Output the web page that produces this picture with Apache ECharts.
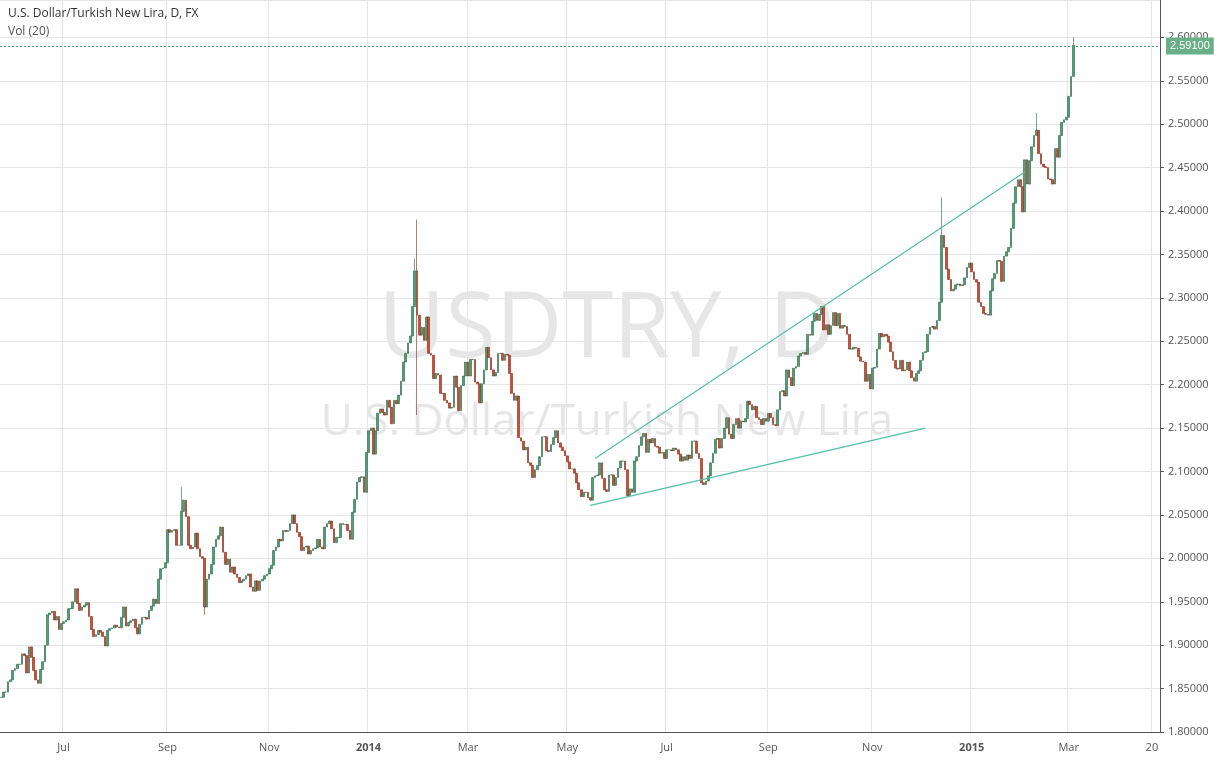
<!DOCTYPE html>
<html><head><meta charset="utf-8">
<script src="https://cdn.jsdelivr.net/npm/echarts@6/dist/echarts.min.js"></script>
<style>html,body{margin:0;padding:0;background:#fff}#c{width:1214px;height:764px}</style>
</head><body><div id="c"></div>
<script>
const closes1=[1.840,1.846,1.846,1.858,1.860,1.871,1.873,1.878,1.878,1.890,1.888,1.868,1.898,1.886,1.871,1.860,1.856,1.872,1.881,1.900,1.935,1.937,1.939,1.929,1.933,1.918,1.925,1.927,1.929,1.942,1.942,1.950,1.965,1.948,1.940,1.944,1.946,1.949,1.933,1.918,1.910,1.912,1.917,1.915,1.910,1.899,1.917,1.919,1.920,1.923,1.921,1.920,1.932,1.944,1.922,1.926,1.928,1.930,1.920,1.913,1.924,1.932,1.932,1.930,1.940,1.945,1.953,1.948,1.976,1.988,1.989,1.995,2.033,2.030,2.032,2.033,2.015,2.015,2.054,2.067,2.048,2.015,2.011,2.013,2.029,2.011,2.002];
const closes2=[2.000,1.944,1.976,1.982,1.993,2.013,2.022,2.026,2.036,2.007,1.993,1.999,1.984,1.990,1.982,1.978,1.972,1.974,1.976,1.980,1.982,1.967,1.962,1.974,1.963,1.974,1.976,1.980,1.982,1.988,1.992,2.009,2.013,2.022,2.020,2.032,2.031,2.032,2.040,2.050,2.040,2.030,2.025,2.009,2.013,2.014,2.005,2.009,2.011,2.012,2.022,2.013,2.011,2.036,2.040,2.043,2.034,2.018,2.024,2.024,2.040,2.039,2.039,2.032,2.022,2.053,2.068,2.088,2.093,2.094,2.076,2.122,2.147,2.150,2.120,2.147,2.167,2.172,2.168,2.165,2.182,2.174,2.155];
const closes3=[2.182,2.178,2.188,2.204,2.226,2.236,2.248,2.256,2.290,2.331,2.280,2.257,2.266,2.251,2.278,2.236,2.234,2.207,2.213,2.211,2.190,2.190,2.182,2.179,2.173,2.174,2.210,2.197,2.170,2.199,2.210,2.226,2.210,2.229,2.229,2.203,2.201,2.179,2.201,2.217,2.243,2.231,2.217,2.210,2.214,2.236,2.236,2.228,2.235,2.234,2.213,2.190,2.182,2.187,2.139,2.135,2.125,2.128,2.110,2.107,2.093,2.102,2.107,2.117,2.140,2.140,2.124,2.123,2.131,2.139,2.147,2.133,2.128,2.124,2.118,2.111,2.103,2.103,2.098,2.087,2.079,2.071,2.076,2.076,2.070,2.067,2.093,2.095,2.096,2.110,2.092,2.079,2.077];
const closes4=[2.096,2.096,2.084,2.093,2.104,2.112,2.112,2.102,2.072,2.080,2.076,2.112,2.117,2.130,2.140,2.144,2.122,2.137,2.133,2.138,2.129,2.128,2.121,2.122,2.115,2.125,2.125,2.124,2.127,2.125,2.120,2.112,2.117,2.113,2.119,2.115,2.135,2.135,2.121,2.115,2.087,2.085,2.089,2.095,2.110,2.121,2.137,2.138,2.127,2.138,2.150,2.162,2.143,2.138,2.154,2.161,2.150,2.158,2.157,2.161,2.181,2.177,2.171,2.175,2.162,2.160,2.154,2.161,2.158,2.167,2.162,2.154,2.153,2.171,2.192,2.193,2.187,2.217,2.208,2.199,2.219,2.221,2.233,2.236,2.237,2.235,2.258,2.257,2.273,2.282,2.274,2.281,2.290,2.263,2.269,2.258,2.268,2.283,2.268,2.282,2.265];
const closes5=[2.268,2.267,2.258,2.241,2.241,2.243,2.242,2.232,2.227,2.226,2.204,2.212,2.195,2.219,2.220,2.241,2.259,2.255,2.258,2.256,2.249,2.238,2.228,2.219,2.218,2.228,2.216,2.217,2.226,2.216,2.208,2.204,2.213,2.216,2.228,2.237,2.238,2.258,2.266,2.267,2.264,2.274,2.295,2.372,2.358,2.333,2.321,2.308,2.310,2.315,2.316,2.314,2.315,2.323,2.335,2.340,2.330,2.321,2.318,2.295,2.290,2.282,2.281,2.280,2.308,2.322,2.328,2.343,2.342,2.319,2.348,2.353,2.358,2.380,2.409,2.428];
const closes6=[2.436,2.428,2.399,2.459,2.431,2.458,2.474,2.487,2.493,2.466,2.454,2.451,2.450,2.437,2.436,2.431,2.472,2.462,2.487,2.502,2.505,2.508,2.532,2.555,2.591];
// notable wicks: [date, high, low]
const spikes=[['2013-09-10',2.082,null],['2013-09-24',null,1.935],['2014-01-29',2.345,null],['2014-01-30',2.39,2.165],['2014-12-15',2.416,null],['2015-02-10',2.513,null],['2015-03-04',2.60,null]];
const lastDate='2015-03-04';
const futureSlots=37;
const monthNames=['Jan','Feb','Mar','Apr','May','Jun','Jul','Aug','Sep','Oct','Nov','Dec'];
const upperTrend=[['2014-05-19',2.115],['2015-02-03',2.445]];
const lowerTrend=[['2014-05-15',2.061],['2014-12-04',2.150]];
const lastPrice=2.591;

const closes=[].concat(closes1,closes2,closes3,closes4,closes5,closes6);
const N=closes.length;
function fmt(d){return d.toISOString().slice(0,10);}
const dates=[];
let d=new Date(lastDate+'T00:00:00Z');
while(dates.length<N){const w=d.getUTCDay(); if(w!==0&&w!==6) dates.unshift(fmt(d)); d.setUTCDate(d.getUTCDate()-1);}
const cats=dates.slice();
d=new Date(lastDate+'T00:00:00Z');
for(let k=0;k<futureSlots;){d.setUTCDate(d.getUTCDate()+1);const w=d.getUTCDay(); if(w!==0&&w!==6){cats.push(fmt(d));k++;}}
const spikeMap={};spikes.forEach(s=>spikeMap[s[0]]=s);
const ohlc=closes.map((c,i)=>{const o=i?closes[i-1]:c;let h=Math.max(o,c),l=Math.min(o,c);const s=spikeMap[dates[i]];if(s){if(s[1]!=null)h=Math.max(h,s[1]);if(s[2]!=null)l=Math.min(l,s[2]);}return [o,c,l,h];});
const labelIdx={};
let prevM=null;
cats.forEach((v,i)=>{const m=+v.slice(5,7);if(m!==prevM){if(m%2===1&&i>0&&i<N){labelIdx[v]=m===1?v.slice(0,4):monthNames[m-1];}prevM=m;}});
labelIdx[cats[cats.length-4]]='20';
const show=(i,v)=>labelIdx[v]!==undefined;

const chart=echarts.init(document.getElementById('c'));
chart.setOption({
 animation:false,
 grid:{left:0,right:54,top:0,bottom:32},
 graphic:[
  {type:'text',left:'center',top:285,z:0,style:{text:'USDTRY, D',font:'92px "Open Sans"',fill:'#e6e6e6'}},
  {type:'text',left:'center',top:400,z:0,style:{text:'U.S. Dollar/Turkish New Lira',font:'44px "Open Sans"',fill:'#e6e6e6'}},
  {type:'text',left:8,top:8,z:10,style:{text:'U.S. Dollar/Turkish New Lira, D, FX',font:'12px "Open Sans"',fill:'#333'}},
  {type:'text',left:8,top:26,z:10,style:{text:'Vol (20)',font:'12px "Open Sans"',fill:'#555'}}
 ],
 xAxis:{type:'category',data:cats,boundaryGap:true,
  axisLine:{show:true,lineStyle:{color:'#555'}},axisTick:{show:false},
  axisLabel:{interval:show,formatter:v=>{const t=labelIdx[v];return /^\d{4}$/.test(t)?'{b|'+t+'}':t;},color:'#555',fontSize:11,fontFamily:'Open Sans',margin:10,rich:{b:{fontWeight:'bold',fontSize:11,color:'#555'}}},
  splitLine:{show:true,interval:show,lineStyle:{color:'#e6e6e6'}}},
 yAxis:{type:'value',position:'right',min:1.8,max:2.643,interval:0.05,scale:true,
  axisLine:{show:true,lineStyle:{color:'#555'}},axisTick:{show:true,length:4,lineStyle:{color:'#555'}},
  axisLabel:{showMaxLabel:false,formatter:v=>v.toFixed(5),color:'#555',fontSize:11,fontFamily:'Open Sans'},
  splitLine:{show:true,lineStyle:{color:'#e6e6e6'}}},
 series:[{type:'candlestick',data:ohlc,barWidth:'95%',barMinWidth:2,
  itemStyle:{color:'#4f9e74',color0:'#d84a32',borderColor:'#2a6446',borderColor0:'#7a2616',borderWidth:0.6},
  markLine:{symbol:'none',silent:true,animation:false,data:[
   [{coord:[upperTrend[0][0],upperTrend[0][1]]},{coord:[upperTrend[1][0],upperTrend[1][1]]}],
   [{coord:[lowerTrend[0][0],lowerTrend[0][1]]},{coord:[lowerTrend[1][0],lowerTrend[1][1]]}],
   {yAxis:lastPrice,lineStyle:{color:'#4aa06e',type:[2,2],width:1},label:{show:true,position:'end',distance:6,formatter:()=>lastPrice.toFixed(5),backgroundColor:'#6aaf88',color:'#fff',padding:[3,4],fontSize:11}}
  ],lineStyle:{color:'#55bfa8',width:1.3,type:'solid'},label:{show:false}}
 }]
});
</script></body></html>
